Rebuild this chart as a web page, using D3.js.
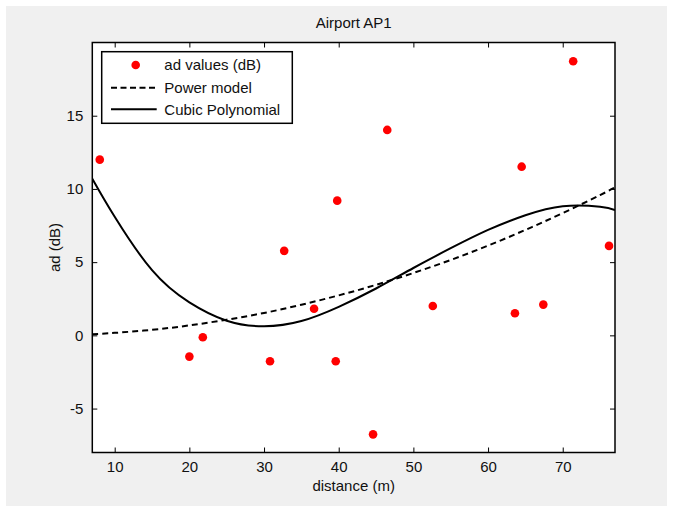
<!DOCTYPE html>
<html>
<head>
<meta charset="utf-8">
<script src="https://cdn.jsdelivr.net/npm/d3@7"></script>
<style>
	body { margin: 0; background: #fff; }
	svg { display: block; font-family: "Liberation Sans", Arial, sans-serif; }
</style>
</head>
<body>
<script>
	// measured points
	const distance = [8.0, 20.0, 21.8, 30.8, 32.7, 36.7, 39.8, 39.6, 44.6, 46.5, 52.6, 63.6, 64.5, 67.4, 71.4, 76.2];
	const adValues = [12.0, -1.45, -0.13, -1.77, 5.77, 1.82, 9.2, -1.77, -6.76, 14.03, 2.01, 1.51, 11.52, 2.1, 18.72, 6.11];

	// fitted curves
	const fitDistance = [7, 10, 15, 20, 25, 30, 35, 40, 45, 50, 55, 60, 65, 70, 75, 77];
	const powerModel = [0.08, 0.17, 0.38, 0.68, 1.07, 1.53, 2.09, 2.73, 3.45, 4.26, 5.15, 6.13, 7.2, 8.35, 9.58, 10.1];
	const cubicPoly = [10.7, 8.1, 4.45, 2.25, 1.0, 0.62, 0.98, 1.95, 3.2, 4.6, 5.95, 7.2, 8.2, 8.82, 8.78, 8.55];

	const xTicks = [10, 20, 30, 40, 50, 60, 70];
	const yTicks = [-5, 0, 5, 10, 15];
	const legendLabels = ["ad values (dB)", "Power model", "Cubic Polynomial"];

	const w = 673,
		h = 506;

	const plot = { left: 92.3, right: 615, top: 42.5, bottom: 452.5 };

	const svg = d3
		.select("body")
		.append("svg")
		.attr("width", w)
		.attr("height", h);

	// figure background
	svg.append("rect")
		.attr("x", 6)
		.attr("y", 6)
		.attr("width", w - 12)
		.attr("height", h - 6)
		.attr("fill", "#f0f0f0");

	const xScale = d3.scaleLinear().domain([7, 77]).range([plot.left, plot.right]),
		yScale = d3.scaleLinear().domain([-8, 20]).range([plot.bottom, plot.top]);

	svg.append("rect")
		.attr("x", plot.left)
		.attr("y", plot.top)
		.attr("width", plot.right - plot.left)
		.attr("height", plot.bottom - plot.top)
		.attr("fill", "#fff");

	// axes with inward ticks on all four sides
	const fontSize = "15px",
		plain = d => String(d);

	const bottomAxis = svg.append("g")
		.attr("transform", `translate(0,${plot.bottom})`)
		.call(d3.axisBottom(xScale).tickValues(xTicks).tickFormat(plain).tickSizeInner(-5).tickSizeOuter(0).tickPadding(9));
	const topAxis = svg.append("g")
		.attr("transform", `translate(0,${plot.top})`)
		.call(d3.axisTop(xScale).tickValues(xTicks).tickSizeInner(-5).tickSizeOuter(0).tickFormat(""));
	const leftAxis = svg.append("g")
		.attr("transform", `translate(${plot.left},0)`)
		.call(d3.axisLeft(yScale).tickValues(yTicks).tickFormat(plain).tickSizeInner(-5).tickSizeOuter(0).tickPadding(9));
	const rightAxis = svg.append("g")
		.attr("transform", `translate(${plot.right},0)`)
		.call(d3.axisRight(yScale).tickValues(yTicks).tickSizeInner(-5).tickSizeOuter(0).tickFormat(""));

	[bottomAxis, topAxis, leftAxis, rightAxis].forEach(a => {
		a.select(".domain").remove();
		a.selectAll(".tick line").attr("stroke", "#000").attr("stroke-width", 1);
		a.selectAll(".tick text")
			.attr("font-size", fontSize)
			.attr("font-family", "Liberation Sans, Arial, sans-serif")
			.attr("fill", "#111");
	});

	const line = d3.line()
		.x((d, i) => xScale(fitDistance[i]))
		.y(d => yScale(d))
		.curve(d3.curveNatural);

	svg.append("clipPath").attr("id", "clip")
		.append("rect")
		.attr("x", plot.left)
		.attr("y", plot.top)
		.attr("width", plot.right - plot.left)
		.attr("height", plot.bottom - plot.top);

	const lines = svg.append("g").attr("clip-path", "url(#clip)");

	lines.append("path")
		.datum(powerModel)
		.attr("d", line)
		.attr("fill", "none")
		.attr("stroke", "#000")
		.attr("stroke-width", 2)
		.attr("stroke-dasharray", "6,4");

	lines.append("path")
		.datum(cubicPoly)
		.attr("d", line)
		.attr("fill", "none")
		.attr("stroke", "#000")
		.attr("stroke-width", 2);

	svg.append("g")
		.selectAll("circle")
		.data(distance)
		.enter()
		.append("circle")
		.attr("cx", d => xScale(d))
		.attr("cy", (d, i) => yScale(adValues[i]))
		.attr("r", 4.3)
		.attr("fill", "#ff0000");

	// box
	svg.append("rect")
		.attr("x", plot.left)
		.attr("y", plot.top)
		.attr("width", plot.right - plot.left)
		.attr("height", plot.bottom - plot.top)
		.attr("fill", "none")
		.attr("stroke", "#000")
		.attr("stroke-width", 1.5);

	// legend
	const legend = svg.append("g").attr("transform", "translate(101.7,51.7)");

	legend.append("rect")
		.attr("width", 190.6)
		.attr("height", 71.6)
		.attr("fill", "#fff")
		.attr("stroke", "#000")
		.attr("stroke-width", 1.5);

	const rowY = [13.3, 36, 57.6];

	legend.append("circle")
		.attr("cx", 34)
		.attr("cy", rowY[0])
		.attr("r", 4.3)
		.attr("fill", "#ff0000");

	legend.append("line")
		.attr("x1", 9.3).attr("x2", 55)
		.attr("y1", rowY[1]).attr("y2", rowY[1])
		.attr("stroke", "#000")
		.attr("stroke-width", 2)
		.attr("stroke-dasharray", "6,3.5");

	legend.append("line")
		.attr("x1", 9.3).attr("x2", 55)
		.attr("y1", rowY[2]).attr("y2", rowY[2])
		.attr("stroke", "#000")
		.attr("stroke-width", 2);

	legend.selectAll("text")
		.data(legendLabels)
		.enter()
		.append("text")
		.attr("x", 62.6)
		.attr("y", (d, i) => rowY[i])
		.attr("dy", "0.35em")
		.attr("font-size", fontSize)
		.attr("fill", "#111")
		.text(d => d);

	// title and axis labels
	svg.append("text")
		.attr("x", (plot.left + plot.right) / 2)
		.attr("y", 23)
		.attr("dy", "0.35em")
		.attr("text-anchor", "middle")
		.attr("font-size", fontSize)
		.attr("fill", "#111")
		.text("Airport AP1");

	svg.append("text")
		.attr("x", (plot.left + plot.right) / 2)
		.attr("y", 486)
		.attr("dy", "0.35em")
		.attr("text-anchor", "middle")
		.attr("font-size", fontSize)
		.attr("fill", "#111")
		.text("distance (m)");

	svg.append("text")
		.attr("transform", `translate(55,${(plot.top + plot.bottom) / 2}) rotate(-90)`)
		.attr("dy", "0.35em")
		.attr("text-anchor", "middle")
		.attr("font-size", fontSize)
		.attr("fill", "#111")
		.text("ad (dB)");
</script>
</body>
</html>
